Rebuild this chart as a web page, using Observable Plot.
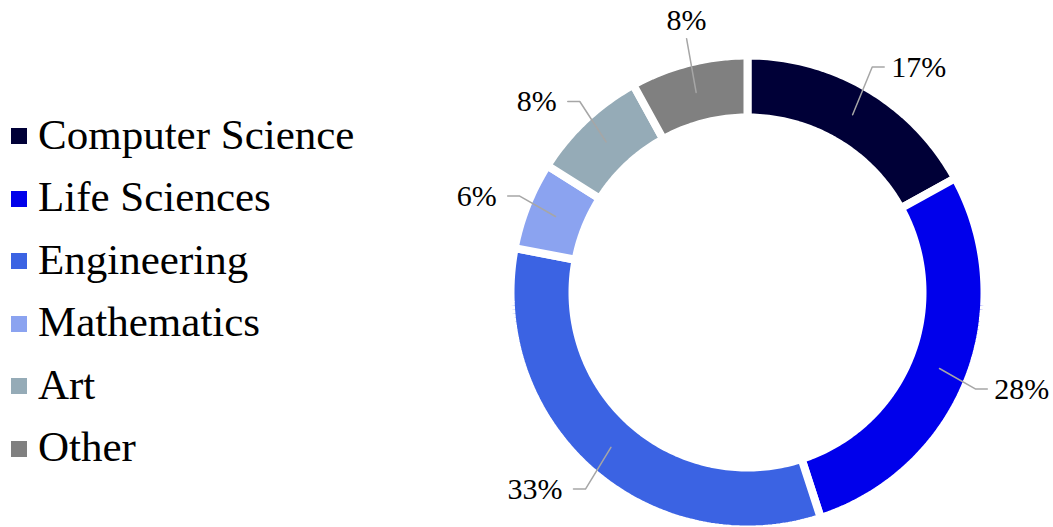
<!DOCTYPE html>
<html><head><meta charset="utf-8">
<script src="https://cdn.jsdelivr.net/npm/d3@7"></script>
<script src="https://cdn.jsdelivr.net/npm/@observablehq/plot@0.6"></script>
<style>
html,body{margin:0;padding:0;background:#fff;}
#wrap{position:relative;width:1053px;height:527px;overflow:hidden;background:#fff;}
#chart{position:absolute;left:0;top:0;}
#legend{position:absolute;left:0;top:103.5px;font-family:"Liberation Serif","Times New Roman",serif;font-size:43px;color:#000;}
.row{position:relative;height:62.6px;line-height:62.6px;white-space:nowrap;}
.sw{position:absolute;left:11px;top:24.5px;width:16px;height:16px;}
.lb{position:absolute;left:38px;top:0;}
</style></head><body>
<div id="wrap"><div id="chart"></div><div id="legend"></div></div>
<script>
const categories = ["Computer Science","Life Sciences","Engineering","Mathematics","Art","Other"];
const shares = [17, 28, 33, 6, 8, 8];
const labels = ["17%","28%","33%","6%","8%","8%"];
const colors = ["#000037","#0000eb","#3b63e3","#8ba3f0","#95abb7","#808080"];

// layout
const cx = 747, cy = 292, R = 237;
const rInner = 175 / R;
const rMid = 206.5 / R;
const rxLab = 245 / R, ryLab = 262 / R;
const stub = 12 / R;

let cum = 0;
const total = d3.sum(shares);
const slices = categories.map((c, i) => {
  const a0 = cum / total * 2 * Math.PI;
  cum += shares[i];
  const a1 = cum / total * 2 * Math.PI;
  return {category: c, a0, a1, mid: (a0 + a1) / 2, label: labels[i]};
});

const poly = [];
for (const s of slices) {
  const n = Math.max(2, Math.ceil((s.a1 - s.a0) / (Math.PI / 180)));
  const pts = [];
  for (let j = 0; j <= n; j++) {
    const a = s.a0 + (s.a1 - s.a0) * j / n;
    pts.push({category: s.category, x: Math.sin(a), y: Math.cos(a)});
  }
  for (let j = n; j >= 0; j--) {
    const a = s.a0 + (s.a1 - s.a0) * j / n;
    pts.push({category: s.category, x: rInner * Math.sin(a), y: rInner * Math.cos(a)});
  }
  pts.push({...pts[0]});
  poly.push(...pts);
}

const leaders = [];
const texts = [];
slices.forEach((s, i) => {
  const sn = Math.sin(s.mid), cs = Math.cos(s.mid);
  const p0 = {id: i, x: rMid * sn, y: rMid * cs};
  const e = {id: i, x: rxLab * sn, y: ryLab * cs};
  leaders.push(p0, e);
  if (Math.abs(sn) < 0.35) {
    texts.push({side: "mid", x: e.x, y: e.y + (cs > 0 ? 18 / R : -30 / R), text: s.label});
  } else if (sn > 0) {
    leaders.push({id: i, x: e.x + stub, y: e.y});
    texts.push({side: "right", x: e.x + stub + 7 / R, y: e.y, text: s.label});
  } else {
    leaders.push({id: i, x: e.x - stub, y: e.y});
    texts.push({side: "left", x: e.x - stub - 11 / R, y: e.y, text: s.label});
  }
});

const font = {fontFamily: "Liberation Serif, Times New Roman, serif", fontSize: 30, fill: "#000", lineAnchor: "middle"};

const chart = Plot.plot({
  width: 1053,
  height: 527,
  margin: 0,
  x: {domain: [-1, 1], range: [cx - R, cx + R], axis: null},
  y: {domain: [-1, 1], range: [cy + R, cy - R], axis: null},
  color: {type: "ordinal", domain: categories, range: colors},
  style: {background: "transparent"},
  marks: [
    Plot.line(poly, {x: "x", y: "y", z: "category", fill: "category", stroke: "white", strokeWidth: 8, strokeLinejoin: "miter", curve: "linear"}),
    Plot.line(leaders, {x: "x", y: "y", z: "id", stroke: "#a6a6a6", strokeWidth: 1.5, curve: "linear"}),
    Plot.text(texts.filter(d => d.side === "right"), {x: "x", y: "y", text: "text", textAnchor: "start", ...font}),
    Plot.text(texts.filter(d => d.side === "left"), {x: "x", y: "y", text: "text", textAnchor: "end", ...font}),
    Plot.text(texts.filter(d => d.side === "mid"), {x: "x", y: "y", text: "text", textAnchor: "middle", ...font})
  ]
});
document.getElementById("chart").appendChild(chart);

const legend = document.getElementById("legend");
categories.forEach((c, i) => {
  const row = document.createElement("div");
  row.className = "row";
  const sw = document.createElement("div");
  sw.className = "sw";
  sw.style.background = colors[i];
  const lb = document.createElement("span");
  lb.className = "lb";
  lb.textContent = c;
  row.appendChild(sw);
  row.appendChild(lb);
  legend.appendChild(row);
});
</script>
</body></html>
